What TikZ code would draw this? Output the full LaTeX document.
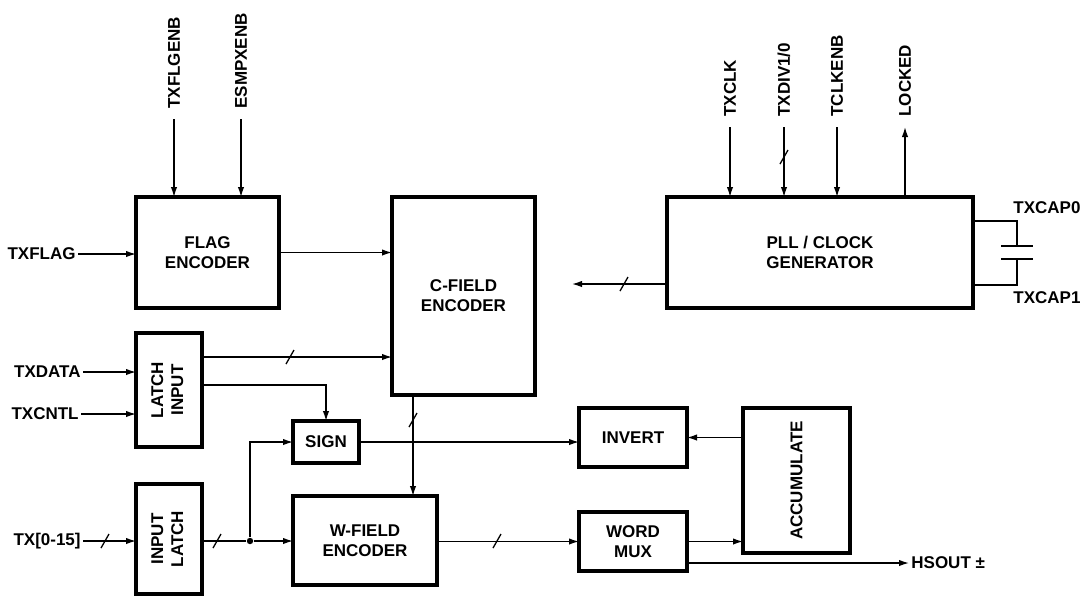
\documentclass[tikz,border=0pt]{standalone}
\usepackage{fontspec}
\setmainfont{Liberation Sans}
\usepackage{graphicx}
\usepackage{tikz}
\usetikzlibrary{arrows.meta}

\tikzset{
  blk/.style={draw, line width=1.65pt, inner sep=0pt, outer sep=0pt, align=center,
    font=\bfseries\fontsize{8.5}{10}\selectfont},
  lbl/.style={inner sep=1pt, font=\bfseries\fontsize{8.5}{10}\selectfont},
  toplbl/.style={lbl, rotate=90, anchor=west, inner xsep=5pt},
  wire/.style={line width=0.65pt},
  sig/.style={wire, -{Latex[length=5pt,width=3.2pt]}},
  bus/.pic={\draw[wire] (-4,7) -- (4,-7);}
}

\begin{document}
\begin{tikzpicture}[x=0.5pt,y=-0.5pt]
\useasboundingbox (0,0) rectangle (1082,596);

% blocks
\node[blk, minimum width=71.5pt, minimum height=55.5pt] (flag) at (207.5,252.5) {FLAG\\ENCODER};
\node[blk, minimum width=71.5pt, minimum height=99pt] (cfield) at (463.5,296) {C-FIELD\\ENCODER};
\node[blk, minimum width=153pt, minimum height=55.5pt] (pll) at (820,252.5) {PLL / CLOCK\\GENERATOR};
\node[blk, minimum width=33pt, minimum height=57pt] (latchin) at (169,390)
  {\rotatebox{90}{\begin{tabular}{@{}c@{}}LATCH\\INPUT\end{tabular}}};
\node[blk, minimum width=33pt, minimum height=21pt] (sign) at (326,442) {SIGN};
\node[blk, minimum width=54pt, minimum height=29.5pt] (invert) at (633,437.5) {INVERT};
\node[blk, minimum width=53.5pt, minimum height=72.5pt] (accum) at (796.5,480.5)
  {\rotatebox{90}{ACCUMULATE}};
\node[blk, minimum width=33pt, minimum height=55pt] (inlatch) at (169,539)
  {\rotatebox{90}{\begin{tabular}{@{}c@{}}INPUT\\LATCH\end{tabular}}};
\node[blk, minimum width=72pt, minimum height=44.5pt] (wfield) at (365,540.5) {W-FIELD\\ENCODER};
\node[blk, minimum width=54pt, minimum height=29.5pt] (wmux) at (633,541.5) {WORD\\MUX};

% flag encoder inputs
\node[lbl, anchor=east] (txflag) at (78,254) {TXFLAG};
\draw[sig] (txflag.east) -- (txflag.east -| flag.west);
\node[toplbl] (txflgenb) at (174,119) {TXFLGENB};
\draw[sig] (txflgenb.west) -- (txflgenb.west |- flag.north);
\node[toplbl] (esmpxenb) at (241,119) {ESMPXENB};
\draw[sig] (esmpxenb.west) -- (esmpxenb.west |- flag.north);
\draw[sig] (flag.east) -- (flag.east -| cfield.west);

% pll
\node[toplbl] (txclk) at (730,127) {TXCLK};
\draw[sig] (txclk.west) -- (txclk.west |- pll.north);
\node[toplbl] (txdiv) at (784,127) {TXDIV1/0};
\draw[sig] (txdiv.west) -- (txdiv.west |- pll.north);
\pic at (784,157) {bus};
\node[toplbl] (tclkenb) at (837,127) {TCLKENB};
\draw[sig] (tclkenb.west) -- (tclkenb.west |- pll.north);
\node[toplbl] (locked) at (905,127) {LOCKED};
\draw[sig] (locked.west |- pll.north) -- (locked.west);

\coordinate (clkout) at (572,284);
\draw[sig] (pll.west |- clkout) -- (clkout);
\pic at (624,284) {bus};

% capacitor
\draw[wire] ([yshift=-12pt]pll.north east) -| (1017,246);
\draw[wire] ([yshift=11.5pt]pll.south east) -| (1017,259);
\draw[wire] (1001,246) -- (1033,246) (1001,259) -- (1033,259);
\node[lbl] (txcap0) at (1047,208) {TXCAP0};
\node[lbl] (txcap1) at (1047,298) {TXCAP1};

% latch input
\node[lbl, anchor=east] (txdata) at (83,372) {TXDATA};
\draw[sig] (txdata.east) -- (txdata.east -| latchin.west);
\node[lbl, anchor=east] (txcntl) at (81,414) {TXCNTL};
\draw[sig] (txcntl.east) -- (txcntl.east -| latchin.west);
\draw[sig] ([yshift=16.5pt]latchin.east) coordinate (l1) -- (l1 -| cfield.west);
\pic at (290,357) {bus};
\draw[sig] ([yshift=2.5pt]latchin.east) -| (sign.north);

% data path
\node[lbl, anchor=east] (txin) at (83,541) {TX[0-15]};
\draw[sig] (txin.east) -- (txin.east -| inlatch.west);
\pic at (105,541) {bus};
\node[circle, fill, inner sep=0pt, minimum size=3.2pt] (tap) at (250,541) {};
\draw[sig] (inlatch.east |- tap) -- (tap) -- (tap -| wfield.west);
\pic at (217,541) {bus};
\draw[sig] (tap) |- (sign.west);

\draw[sig] ([xshift=10.5pt]cfield.south west) coordinate (c1) -- (c1 |- wfield.north);
\pic at (413,420) {bus};

\draw[sig] (sign.east) -- (sign.east -| invert.west);
\draw[sig] (accum.west |- invert.east) -- (invert.east);
\draw[sig] (wfield.east |- wmux.west) -- (wmux.west);
\pic at (497,541) {bus};
\draw[sig] (wmux.east) -- (wmux.east -| accum.west);

\node[lbl, anchor=west] (hsout) at (909,563) {HSOUT ±};
\draw[sig] (wmux.east |- hsout.west) -- (hsout.west);

\end{tikzpicture}
\end{document}
